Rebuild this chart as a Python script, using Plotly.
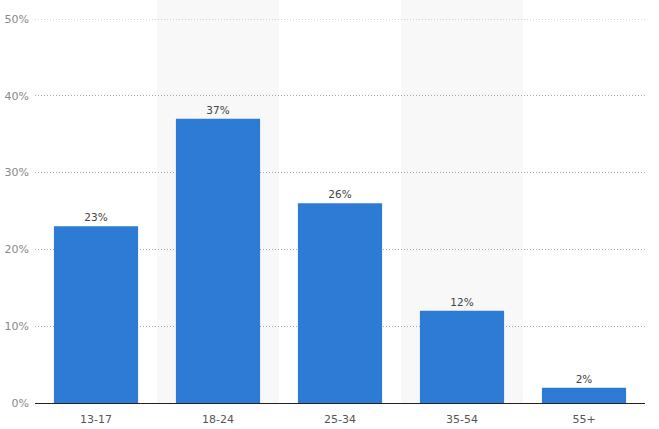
import plotly.graph_objects as go

categories = ["13-17", "18-24", "25-34", "35-54", "55+"]
values = [23, 37, 26, 12, 2]
y_ticks = [0, 10, 20, 30, 40, 50]
y_tick_labels = ["0%", "10%", "20%", "30%", "40%", "50%"]

fig = go.Figure()
fig.add_trace(go.Bar(
    x=categories, y=values,
    marker=dict(color="#2e7bd6", line=dict(width=0)),
    text=[f"{v}%" for v in values],
    textposition="outside",
    textfont=dict(family="DejaVu Sans, sans-serif", size=10.5, color="#444"),
    cliponaxis=False,
))

shapes = []
for i in range(len(categories)):
    if i % 2 == 1:
        shapes.append(dict(type="rect", xref="x", yref="paper",
                           x0=i - 0.5, x1=i + 0.5, y0=0, y1=1.05,
                           fillcolor="#f8f8f8", line=dict(width=0), layer="below"))
# top gridline (at the edge of the range, not drawn by plotly)
shapes.append(dict(type="line", xref="paper", yref="y",
                   x0=0, x1=1, y0=y_ticks[-1], y1=y_ticks[-1],
                   line=dict(color="#aaaaaa", width=1, dash="1px,2px"), layer="below"))

fig.update_layout(
    width=659, height=429,
    margin=dict(l=35, r=14, t=19, b=26),
    paper_bgcolor="white", plot_bgcolor="white",
    bargap=0.31,
    showlegend=False,
    shapes=shapes,
    font=dict(family="DejaVu Sans, sans-serif", size=11, color="#666"),
    xaxis=dict(
        showgrid=False, showline=True, linecolor="#222", linewidth=1,
        ticks="", tickfont=dict(size=11, color="#555"),
        ticklabelstandoff=6, automargin=False,
        range=[-0.5, 4.5],
    ),
    yaxis=dict(
        range=[0, 50], tickvals=y_ticks, ticktext=y_tick_labels,
        showgrid=True, gridcolor="#aaaaaa", griddash="1px,2px", gridwidth=1,
        zeroline=False, showline=False, ticks="", automargin=False,
        ticklabelstandoff=5,
        tickfont=dict(size=11, color="#888"),
    ),
)

fig.write_html("out.html", config={"displayModeBar": False},
               post_script="document.body.style.margin='0px';")
